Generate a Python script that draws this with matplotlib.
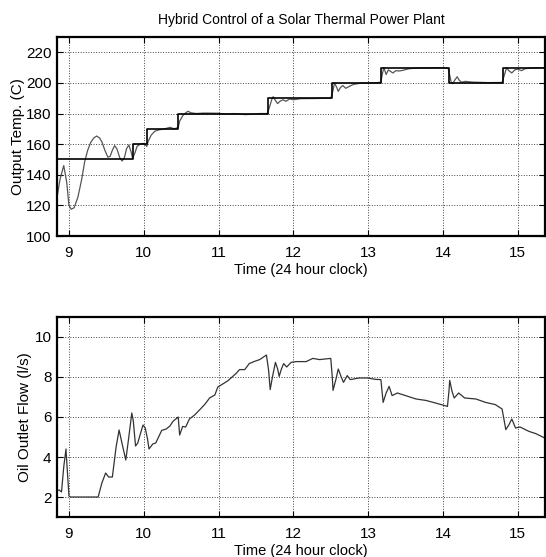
import matplotlib
matplotlib.use('Agg')
import matplotlib.pyplot as plt

# setpoint of the outlet temperature (step changes)
sp_time = [8.84, 9.86, 10.04, 10.46, 11.66, 12.52, 13.17, 14.08, 14.80, 15.37]
sp_temp = [150, 160, 170, 180, 190, 200, 210, 200, 210, 210]

# measured outlet temperature
temp_time = [8.84, 8.88, 8.93, 8.97, 9.00, 9.03, 9.07, 9.12, 9.17, 9.21, 9.25, 9.29, 9.33,
             9.37, 9.41, 9.44, 9.48, 9.52, 9.55, 9.58, 9.61, 9.64, 9.68, 9.71, 9.74, 9.77,
             9.80, 9.83, 9.85, 9.88, 9.91, 9.95, 9.99, 10.02, 10.04, 10.06, 10.10, 10.15,
             10.20, 10.28, 10.35, 10.41, 10.46, 10.48, 10.52, 10.55, 10.59, 10.63, 10.7,
             10.8, 11.0, 11.1, 11.2, 11.35, 11.45, 11.55, 11.65, 11.68, 11.71, 11.73, 11.76,
             11.79, 11.82, 11.86, 11.9, 11.95, 12.0, 12.1, 12.3, 12.5, 12.53, 12.55, 12.58,
             12.60, 12.63, 12.66, 12.70, 12.74, 12.80, 12.90, 13.1, 13.17, 13.19, 13.21,
             13.24, 13.27, 13.30, 13.33, 13.37, 13.42, 13.47, 13.55, 13.7, 14.0, 14.07,
             14.09, 14.11, 14.13, 14.16, 14.19, 14.22, 14.25, 14.30, 14.4, 14.6, 14.79,
             14.82, 14.85, 14.88, 14.92, 14.96, 15.0, 15.05, 15.1, 15.2, 15.37]
temp_val = [125, 137, 146, 135, 120, 117.5, 118.5, 125.5, 137, 148.5, 156, 161, 164,
            165.3, 164, 161.5, 156, 151.5, 152, 156, 159, 157, 151, 149, 151, 157,
            159.5, 155, 151, 154, 158.5, 160, 160.5, 159.5, 158.5, 162, 166, 168.5,
            169.3, 170, 171, 170, 171, 175, 178.5, 180, 181.5, 180.5, 180,
            180.3, 180.2, 179.5, 180, 179.3, 179.5, 180, 180, 184, 189, 191, 188.5,
            186.5, 188, 189, 188, 189.5, 189, 189.7, 189.8, 190, 195, 200, 197,
            194.5, 197, 198.3, 196.5, 197.5, 199, 199.8, 200, 200.5, 206, 210,
            205.5, 208.5, 207.5, 206.5, 208, 207.8, 208.3, 209.3, 209.8, 210, 209.5,
            205, 200.5, 199.5, 202, 204, 201.5, 200.5, 201, 200.5, 200.2, 200.3,
            205, 210, 208, 206.5, 208.5, 209, 208, 209.3, 209.8, 210]

# oil outlet flow
flow_time = [8.84, 8.87, 8.90, 8.93, 8.96, 8.98, 9.00, 9.02, 9.39, 9.44, 9.49, 9.53, 9.58,
             9.63, 9.67, 9.72, 9.76, 9.80, 9.84, 9.86, 9.89, 9.92, 9.95, 9.99, 10.02, 10.05,
             10.07, 10.12, 10.16, 10.24, 10.30, 10.35, 10.39, 10.46, 10.48, 10.52, 10.56,
             10.61, 10.68, 10.75, 10.82, 10.88, 10.95, 10.99, 11.06, 11.12, 11.19, 11.24,
             11.28, 11.35, 11.41, 11.48, 11.55, 11.64, 11.67, 11.69, 11.72, 11.76, 11.79,
             11.81, 11.84, 11.87, 11.91, 11.97, 12.04, 12.17, 12.26, 12.35, 12.50, 12.52,
             12.53, 12.57, 12.60, 12.64, 12.67, 12.72, 12.76, 12.88, 12.99, 13.1, 13.17,
             13.20, 13.24, 13.28, 13.32, 13.39, 13.50, 13.64, 13.77, 13.90, 14.06, 14.08,
             14.09, 14.12, 14.15, 14.21, 14.29, 14.44, 14.57, 14.70, 14.79, 14.84, 14.88,
             14.92, 14.97, 15.03, 15.15, 15.24, 15.36]
flow_val = [2.33, 2.35, 2.25, 3.5, 4.4, 3.2, 2.05, 2.0, 2.0, 2.7, 3.2, 3.0, 3.0,
            4.5, 5.35, 4.5, 3.85, 5.0, 6.2, 5.8, 4.55, 4.7, 5.1, 5.6, 5.45, 4.9,
            4.4, 4.65, 4.7, 5.33, 5.4, 5.55, 5.78, 6.0, 5.1, 5.53, 5.5,
            5.9, 6.1, 6.37, 6.65, 6.95, 7.1, 7.5, 7.66, 7.8, 8.03, 8.2,
            8.37, 8.37, 8.67, 8.78, 8.87, 9.1, 8.3, 7.37, 8.0, 8.73, 8.4,
            8.03, 8.4, 8.67, 8.5, 8.73, 8.77, 8.77, 8.93, 8.87, 8.93, 8.0,
            7.33, 7.9, 8.4, 8.0, 7.73, 8.07, 7.87, 7.95, 7.95, 7.88, 7.87,
            6.73, 7.2, 7.53, 7.07, 7.2, 7.07, 6.9, 6.83, 6.7, 6.53, 7.3,
            7.83, 7.3, 6.95, 7.2, 6.95, 6.9, 6.73, 6.62, 6.4, 5.37, 5.6,
            5.9, 5.45, 5.5, 5.28, 5.17, 4.95]

hours = [9, 10, 11, 12, 13, 14, 15]

plt.rcParams['font.family'] = ['Liberation Sans', 'DejaVu Sans']

fig = plt.figure(figsize=(5.46, 5.57), dpi=100)
ax1 = fig.add_axes([0.1044, 0.5763, 0.8946, 0.3573])
ax2 = fig.add_axes([0.1044, 0.0718, 0.8946, 0.3591])

ax1.plot(temp_time, temp_val, color='#555555', lw=0.9)
ax1.plot(sp_time, sp_temp, color='black', lw=1.2, drawstyle='steps-post')
ax1.set_xlim(8.84, 15.37)
ax1.set_ylim(100, 230)
ax1.set_yticks([100, 120, 140, 160, 180, 200, 220])
ax1.set_title('Hybrid Control of a Solar Thermal Power Plant', fontsize=10, pad=9)
ax1.set_ylabel('Output Temp. (C)', fontsize=11, labelpad=0.5)
ax1.set_xlabel('Time (24 hour clock)', fontsize=10.5, labelpad=2.5)

ax2.plot(flow_time, flow_val, color='#333333', lw=0.9)
ax2.set_xlim(8.84, 15.37)
ax2.set_ylim(1, 11)
ax2.set_yticks([2, 4, 6, 8, 10])
ax2.set_ylabel('Oil Outlet Flow (l/s)', fontsize=11, labelpad=1.5)
ax2.set_xlabel('Time (24 hour clock)', fontsize=10.5, labelpad=2)

for ax in (ax1, ax2):
    ax.set_xticks(hours)
    ax.grid(True, linestyle=':', color='#444444', lw=0.7)
    ax.tick_params(direction='in', top=True, right=True, length=4, labelsize=11)
    ax.tick_params(axis='x', pad=7)
    ax.tick_params(axis='y', pad=4)
    for s in ax.spines.values():
        s.set_linewidth(1.6)

fig.savefig('out.png', dpi=100)
